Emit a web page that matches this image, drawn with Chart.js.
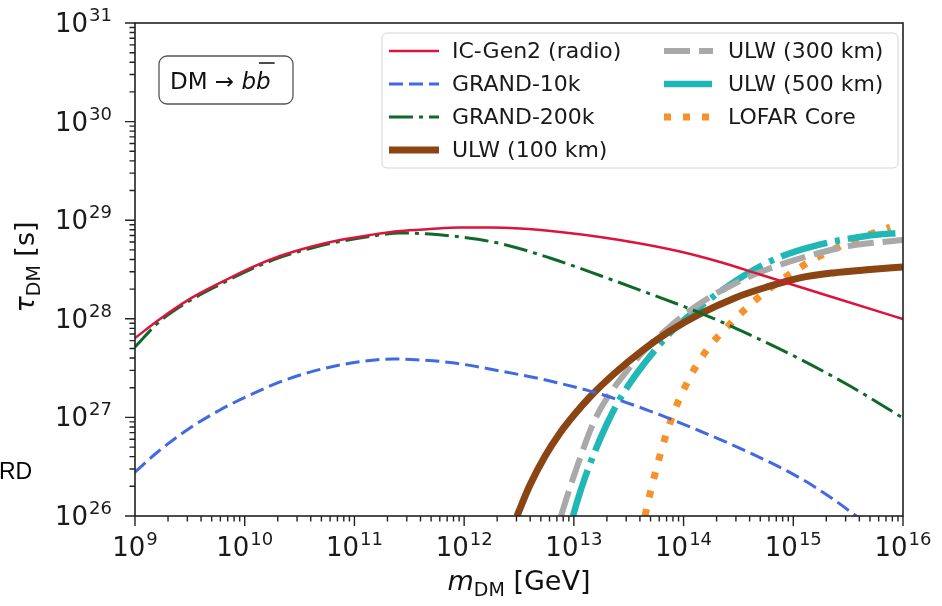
<!DOCTYPE html>
<html>
<head>
<meta charset="utf-8">
<script src="https://cdn.jsdelivr.net/npm/chart.js@4.4.1/dist/chart.umd.min.js"></script>
<style>
  html, body { margin: 0; padding: 0; background: #fff; }
</style>
</head>
<body>
<canvas id="chart" width="942" height="606"></canvas>
<script>
// dark matter mass m_DM [GeV] and lifetime limit tau_DM [s], one pair of arrays per curve
const icGen2Mass = [1e9, 1.69e9, 3.17e9, 5.95e9, 1.12e10, 2.1e10, 3.94e10, 7.38e10, 1.39e11, 2.6e11, 4.89e11, 9.16e11,
  1.72e12, 3.23e12, 7.48e12, 1.73e13, 4.01e13, 9.27e13, 2.15e14, 4.98e14, 1.15e15, 2.67e15, 1e16];
const icGen2 = [6.38e27, 9.95e27, 1.59e28, 2.31e28, 3.27e28, 4.33e28, 5.35e28, 6.3e28, 7.08e28, 7.77e28, 8.14e28, 8.43e28,
  8.43e28, 8.24e28, 7.59e28, 6.76e28, 5.81e28, 4.82e28, 3.77e28, 2.81e28, 2.1e28, 1.57e28, 9.95e27];

const grand10kMass = [1e9, 1.69e9, 3.17e9, 5.95e9, 1.12e10, 2.1e10, 3.94e10, 7.38e10, 1.39e11, 2.25e11, 3.96e11, 7.43e11,
  2.12e12, 6.06e12, 1.73e13, 4.94e13, 1.41e14, 4.04e14, 1.15e15, 2.16e15, 3.66e15, 6.17e15];
const grand10k = [2.79e26, 4.67e26, 7.8e26, 1.19e27, 1.69e27, 2.29e27, 2.88e27, 3.4e27, 3.78e27, 3.91e27, 3.82e27, 3.61e27,
  2.96e27, 2.34e27, 1.73e27, 1.16e27, 7.28e26, 4.36e26, 2.43e26, 1.56e26, 1.02e26, 6.56e25];

const grand200kMass = [1e9, 1.69e9, 3.17e9, 5.95e9, 1.12e10, 2.1e10, 3.94e10, 7.38e10, 1.39e11, 2.6e11, 4.89e11, 9.16e11,
  2.12e12, 6.06e12, 1.73e13, 4.94e13, 1.41e14, 4.04e14, 1.15e15, 3.29e15, 1e16];
const grand200k = [5.18e27, 9.48e27, 1.53e28, 2.23e28, 3.16e28, 4.19e28, 5.17e28, 6.08e28, 6.84e28, 7.42e28, 7.24e28, 6.76e28,
  5.81e28, 4.14e28, 2.75e28, 1.79e28, 1.15e28, 6.86e27, 3.91e27, 2.08e27, 9.86e26];

const ulw100Mass = [3.03e12, 3.98e12, 5.46e12, 7.48e12, 1.02e13, 1.4e13, 2.37e13, 4.27e13, 7.52e13, 1.41e14, 2.94e14, 5.75e14,
  1.15e15, 2.3e15, 5e15, 1e16];
const ulw100 = [1e26, 2.06e26, 4.04e26, 6.95e26, 1.08e27, 1.61e27, 2.82e27, 4.83e27, 7.52e27, 1.12e28, 1.63e28, 2.1e28,
  2.6e28, 2.92e28, 3.16e28, 3.35e28];

const ulw300Mass = [7.64e12, 8.65e12, 1.14e13, 1.49e13, 2.0e13, 3.05e13, 4.27e13, 7.52e13, 1.41e14, 2.94e14, 5.75e14,
  1.54e15, 3.22e15, 1e16];
const ulw300 = [1e26, 1.56e26, 3.87e26, 8.57e26, 1.57e27, 2.96e27, 4.61e27, 8.35e27, 1.43e28, 2.28e28, 3.16e28,
  4.49e28, 5.47e28, 6.3e28];

const ulw500Mass = [9.82e12, 1.09e13, 1.26e13, 1.56e13, 2.0e13, 2.63e13, 3.77e13, 5.5e13, 8.36e13, 1.41e14, 2.39e14, 4.04e14,
  7.57e14, 1.54e15, 4.6e15, 1e16];
const ulw500 = [1e26, 1.49e26, 2.43e26, 4.56e26, 8.57e26, 1.54e27, 2.82e27, 4.83e27, 8.07e27, 1.32e28, 2.05e28, 2.98e28,
  4.24e28, 5.47e28, 6.92e28, 7.5e28];

const lofarMass = [4.45e13, 4.94e13, 5.73e13, 6.78e13, 8.19e13, 1.01e14, 1.3e14, 1.74e14, 2.65e14, 4.98e14, 9.34e14,
  1.75e15, 3.29e15, 7.62e15];
const lofar = [1e26, 1.67e26, 3.21e26, 6.18e26, 1.14e27, 1.94e27, 3.32e27, 5.3e27, 8.85e27, 1.7e28, 2.85e28,
  4.33e28, 6.01e28, 8.53e28];

// axis ranges (decades)
const xDecades = [9, 16];
const yDecades = [26, 31];

const series = [
  { label: 'IC-Gen2 (radio)', mass: icGen2Mass, tau: icGen2, color: '#dc143c', width: 2.5, dash: [] },
  { label: 'GRAND-10k', mass: grand10kMass, tau: grand10k, color: '#4169e1', width: 3, dash: [14, 6] },
  { label: 'GRAND-200k', mass: grand200kMass, tau: grand200k, color: '#0f6a2a', width: 3, dash: [24, 6, 4, 6] },
  { label: 'ULW (100 km)', mass: ulw100Mass, tau: ulw100, color: '#8b4513', width: 7, dash: [] },
  { label: 'ULW (300 km)', mass: ulw300Mass, tau: ulw300, color: '#a9a9a9', width: 6, dash: [26, 9] },
  { label: 'ULW (500 km)', mass: ulw500Mass, tau: ulw500, color: '#20b8b6', width: 6.5, dash: [48, 8, 5, 8] },
  { label: 'LOFAR Core', mass: lofarMass, tau: lofar, color: '#f7922a', width: 7, dash: [7, 12] }
];

function logTicks(range) {
  const out = [];
  for (let e = range[0]; e <= range[1]; e++) {
    out.push({ value: Math.pow(10, e), major: true });
    if (e < range[1]) {
      for (let k = 2; k <= 9; k++) out.push({ value: k * Math.pow(10, e), major: false });
    }
  }
  return out;
}

const FONT = "'DejaVu Sans', sans-serif";
const TICK_FONT = '26px ' + FONT;
const SUP_FONT = '18px ' + FONT;

// draws "10" with a raised exponent; anchor: 'center' (x axis) or 'right' (y axis)
function drawPow(ctx, v, x, baseline, anchor) {
  const e = String(Math.round(Math.log10(v)));
  ctx.font = TICK_FONT;
  const w1 = ctx.measureText('10').width;
  ctx.font = SUP_FONT;
  const w2 = ctx.measureText(e).width + 1;
  const x0 = anchor === 'center' ? x - (w1 + w2) / 2 : x - (w1 + w2);
  ctx.font = TICK_FONT;
  ctx.fillText('10', x0, baseline);
  ctx.font = SUP_FONT;
  ctx.fillText(e, x0 + w1 + 1, baseline - 11);
}

// frame, tick marks and labels, legend, label box and axis titles
const decor = {
  id: 'decor',
  afterDraw(chart) {
    const { ctx, chartArea: a, scales: { x, y } } = chart;
    ctx.save();
    ctx.strokeStyle = '#222';
    ctx.lineWidth = 1.4;
    ctx.beginPath();
    x.ticks.forEach(t => {
      const px = x.getPixelForValue(t.value);
      ctx.moveTo(px, a.bottom);
      ctx.lineTo(px, a.bottom + (t.major ? 10 : 5.5));
    });
    y.ticks.forEach(t => {
      const py = y.getPixelForValue(t.value);
      ctx.moveTo(a.left, py);
      ctx.lineTo(a.left - (t.major ? 10 : 5.5), py);
    });
    ctx.stroke();
    ctx.lineWidth = 1.6;
    ctx.strokeRect(a.left, a.top, a.right - a.left, a.bottom - a.top);

    ctx.fillStyle = '#1a1a1a';
    ctx.textBaseline = 'alphabetic';
    ctx.textAlign = 'left';
    x.ticks.filter(t => t.major).forEach(t => drawPow(ctx, t.value, x.getPixelForValue(t.value), 556, 'center'));
    y.ticks.filter(t => t.major).forEach(t => drawPow(ctx, t.value, 112, y.getPixelForValue(t.value) + 9, 'right'));

    // legend
    const lx = 382, ly = 33, lw = 516, lh = 135;
    ctx.beginPath();
    ctx.roundRect(lx, ly, lw, lh, 5);
    ctx.fillStyle = 'rgba(255,255,255,0.85)';
    ctx.fill();
    ctx.strokeStyle = '#d4d4d4';
    ctx.lineWidth = 1;
    ctx.stroke();
    const rows = [51, 84, 117, 150];
    const cols = [{ x0: 389, x1: 439, tx: 452 }, { x0: 664, x1: 713, tx: 728 }];
    ctx.font = '22px ' + FONT;
    ctx.textBaseline = 'middle';
    series.forEach((s, i) => {
      const c = cols[i < 4 ? 0 : 1];
      const ry = rows[i < 4 ? i : i - 4];
      ctx.beginPath();
      ctx.setLineDash(s.dash);
      ctx.lineCap = 'butt';
      ctx.strokeStyle = s.color;
      ctx.lineWidth = s.width;
      ctx.moveTo(c.x0, ry);
      ctx.lineTo(c.x1, ry);
      ctx.stroke();
      ctx.setLineDash([]);
      ctx.fillStyle = '#1a1a1a';
      ctx.fillText(s.label, c.tx, ry + 1);
    });

    // DM -> b bbar box
    ctx.beginPath();
    ctx.roundRect(159, 56, 134, 48, 8);
    ctx.fillStyle = '#fff';
    ctx.fill();
    ctx.strokeStyle = '#555';
    ctx.lineWidth = 1.3;
    ctx.stroke();
    ctx.fillStyle = '#111';
    ctx.textBaseline = 'alphabetic';
    ctx.font = '23px ' + FONT;
    ctx.fillText('DM \u2192 ', 170, 89);
    let bx = 170 + ctx.measureText('DM \u2192 ').width;
    ctx.font = 'oblique 23px ' + FONT;
    const bw = ctx.measureText('b').width;
    ctx.fillText('b', bx, 89);
    bx += bw;
    ctx.fillText('b', bx, 89);
    ctx.beginPath();
    ctx.strokeStyle = '#111';
    ctx.lineWidth = 1.5;
    ctx.moveTo(bx + 3, 63);
    ctx.lineTo(bx + bw + 4, 63);
    ctx.stroke();

    // x axis title: m_DM [GeV]
    ctx.fillStyle = '#111';
    const xt = [['m', 'oblique 27px ' + FONT, 0], ['DM', '19px ' + FONT, 6], [' [GeV]', '27px ' + FONT, 0]];
    let tw = 0;
    xt.forEach(p => { ctx.font = p[1]; tw += ctx.measureText(p[0]).width; });
    let tx = (a.left + a.right) / 2 - tw / 2;
    xt.forEach(p => { ctx.font = p[1]; ctx.fillText(p[0], tx, 590 + p[2]); tx += ctx.measureText(p[0]).width; });

    // y axis title: tau_DM [s]
    ctx.translate(34, 267);
    ctx.rotate(-Math.PI / 2);
    const yt = [['\u03c4', 'oblique 27px ' + FONT, 0], ['DM', '19px ' + FONT, 6], [' [s]', '27px ' + FONT, 0]];
    tw = 0;
    yt.forEach(p => { ctx.font = p[1]; tw += ctx.measureText(p[0]).width; });
    tx = -tw / 2;
    yt.forEach(p => { ctx.font = p[1]; ctx.fillText(p[0], tx, p[2]); tx += ctx.measureText(p[0]).width; });
    ctx.restore();

    // leftover text at the left edge of the figure
    ctx.save();
    ctx.fillStyle = '#000';
    ctx.font = "23px 'Liberation Sans', Arial, sans-serif";
    ctx.textBaseline = 'alphabetic';
    ctx.fillText('RD', -1, 479);
    ctx.restore();
  }
};

new Chart(document.getElementById('chart'), {
  type: 'line',
  data: {
    datasets: series.map(s => ({
      label: s.label,
      data: s.mass.map((m, i) => ({ x: m, y: s.tau[i] })),
      borderColor: s.color,
      borderWidth: s.width,
      borderDash: s.dash,
      borderCapStyle: 'butt',
      pointRadius: 0,
      fill: false,
      cubicInterpolationMode: 'monotone'
    }))
  },
  options: {
    responsive: false,
    animation: false,
    devicePixelRatio: 1,
    layout: { padding: { top: 23, right: 39, left: 0, bottom: 0 } },
    plugins: { legend: { display: false }, tooltip: { enabled: false } },
    scales: {
      x: {
        type: 'logarithmic',
        min: 1e9,
        max: 1e16,
        afterBuildTicks: s => { s.ticks = logTicks(xDecades); },
        afterFit: s => { s.height = 90; },
        border: { display: false },
        grid: { display: false },
        ticks: { display: false }
      },
      y: {
        type: 'logarithmic',
        min: 1e26,
        max: 1e31,
        afterBuildTicks: s => { s.ticks = logTicks(yDecades); },
        afterFit: s => { s.width = 135; },
        border: { display: false },
        grid: { display: false },
        ticks: { display: false }
      }
    }
  },
  plugins: [decor]
});
</script>
</body>
</html>
